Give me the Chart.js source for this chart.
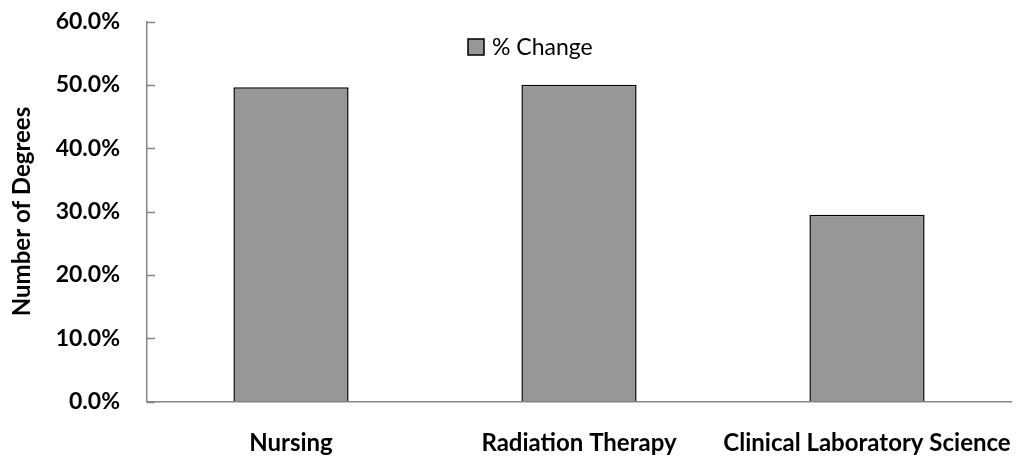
<!DOCTYPE html>
<html>
<head>
<meta charset="utf-8">
<script src="https://cdn.jsdelivr.net/npm/chart.js@4/dist/chart.umd.min.js"></script>
<style>
  html, body { margin: 0; padding: 0; background: #fff; }
  #wrap { width: 1018px; height: 458px; }
</style>
</head>
<body>
<div id="wrap"><canvas id="degreesChart" width="1018" height="458"></canvas></div>
<script>
const categories = ['Nursing', 'Radiation Therapy', 'Clinical Laboratory Science'];
const pctChange = [49.6, 50.0, 29.5];
const yTicks = [0, 10, 20, 30, 40, 50, 60];
const seriesLabel = '% Change';

const axisGray = '#868686';
const barGray = '#979797';

// short tick marks pointing into the plot, like the original
const innerTicks = {
  id: 'innerTicks',
  afterDraw(chart) {
    const y = chart.scales.y;
    const c = chart.ctx;
    c.save();
    c.strokeStyle = axisGray;
    c.lineWidth = 1.5;
    yTicks.forEach(v => {
      const py = Math.round(y.getPixelForValue(v)) + 0.5;
      c.beginPath();
      c.moveTo(y.right, py);
      c.lineTo(y.right + 8, py);
      c.stroke();
    });
    c.restore();
  }
};

// legend sits inside the plot, left of centre
const inPlotLegend = {
  id: 'inPlotLegend',
  afterDraw(chart) {
    const a = chart.chartArea;
    const ds = chart.data.datasets[0];
    const c = chart.ctx;
    const x = a.left + 321, y = a.top + 17.5;
    c.save();
    c.fillStyle = ds.backgroundColor;
    c.fillRect(x, y, 16, 16);
    c.strokeStyle = '#000';
    c.lineWidth = 1.5;
    c.strokeRect(x, y, 16, 16);
    c.fillStyle = '#000';
    c.font = '23px Lato';
    c.textBaseline = 'middle';
    c.fillText(ds.label, x + 24, y + 8.5);
    c.restore();
  }
};

const ctx = document.getElementById('degreesChart').getContext('2d');
const chart = new Chart(ctx, {
  type: 'bar',
  data: {
    labels: categories,
    datasets: [{
      label: seriesLabel,
      data: pctChange,
      backgroundColor: barGray,
      borderColor: '#000',
      borderWidth: 1.5,
      borderSkipped: 'bottom',
      categoryPercentage: 1,
      barPercentage: 0.4
    }]
  },
  options: {
    responsive: false,
    animation: false,
    layout: { padding: { top: 21.5, right: 7, left: 0, bottom: 0 } },
    plugins: {
      legend: { display: false },
      tooltip: { enabled: false }
    },
    scales: {
      x: {
        grid: { drawOnChartArea: false, drawTicks: false },
        border: { color: axisGray, width: 1.5 },
        ticks: {
          color: '#000',
          padding: 27,
          maxRotation: 0,
          autoSkip: false,
          font: { family: 'Lato', size: 24, weight: 'bold' }
        },
        afterFit(s) {
          s.height = 56.5;
          s.paddingLeft = 0;
          s.paddingRight = 0;
        }
      },
      y: {
        min: 0,
        max: 60,
        afterBuildTicks(s) { s.ticks = yTicks.map(v => ({ value: v })); },
        grid: { drawOnChartArea: false, drawTicks: false },
        border: { color: axisGray, width: 1.5 },
        ticks: {
          color: '#000',
          padding: 27,
          font: { family: 'Lato', size: 23, weight: 'bold' },
          callback: v => v.toFixed(1) + '%'
        },
        title: {
          display: true,
          text: 'Number of Degrees',
          color: '#000',
          padding: { top: 8, bottom: 0 },
          font: { family: 'Lato', size: 24, weight: 'bold' }
        },
        afterFit(s) {
          s.width = 147;
          s.paddingTop = 0;
          s.paddingBottom = 0;
        }
      }
    }
  },
  plugins: [innerTicks, inPlotLegend]
});
</script>
</body>
</html>
